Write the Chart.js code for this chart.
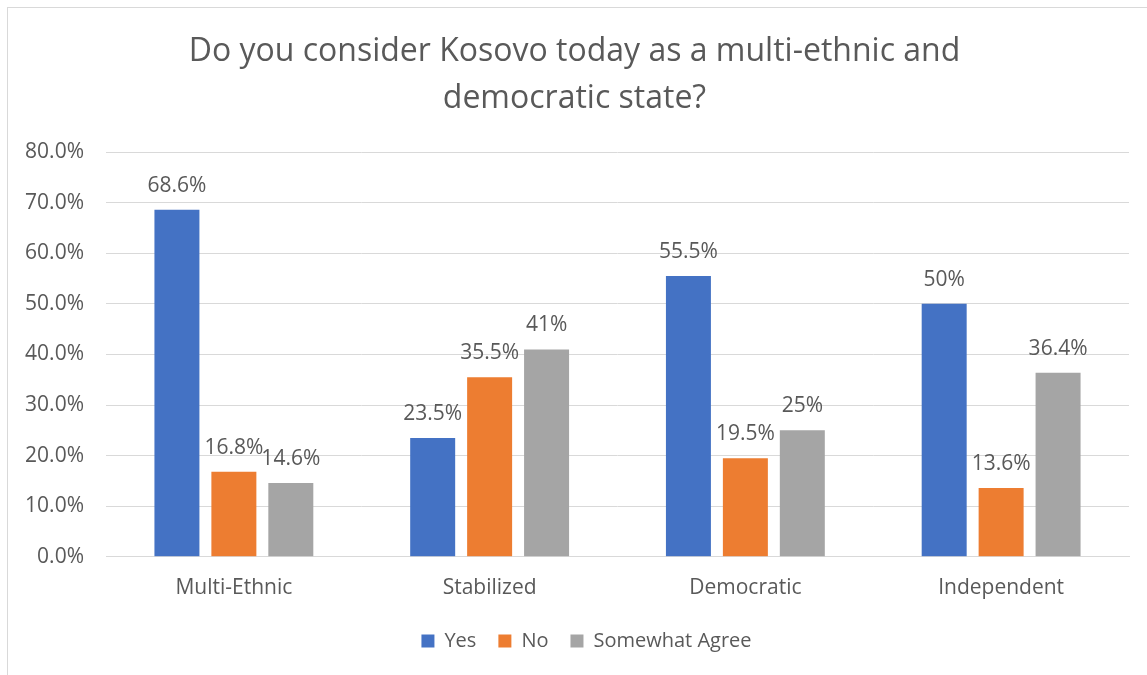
<!DOCTYPE html>
<html>
<head>
<meta charset="utf-8">
<script src="https://cdn.jsdelivr.net/npm/chart.js@4.4.1/dist/chart.umd.min.js"></script>
<style>
  html, body { margin: 0; padding: 0; background: #fff; }
  #wrap { position: relative; width: 1147px; height: 675px; overflow: hidden; }
  #frame { position: absolute; left: 7px; top: 7px; width: 1200px; height: 700px;
           border-left: 1px solid #d9d9d9; border-top: 1px solid #d9d9d9; }
  canvas { position: absolute; left: 0; top: 0; }
</style>
</head>
<body>
<div id="wrap">
  <div id="frame"></div>
  <canvas id="chart" width="1147" height="675"></canvas>
</div>
<script>
const categories = ['Multi-Ethnic', 'Stabilized', 'Democratic', 'Independent'];
const yesValues = [68.6, 23.5, 55.5, 50];
const noValues = [16.8, 35.5, 19.5, 13.6];
const somewhatValues = [14.6, 41, 25, 36.4];
const yTicks = [0, 10, 20, 30, 40, 50, 60, 70, 80];

const textColor = '#595959';
const fontFamily = '"Open Sans", "Liberation Sans", sans-serif';

// value labels above each bar
const barLabels = {
  id: 'barLabels',
  afterDatasetsDraw(chart) {
    const ctx = chart.ctx;
    ctx.save();
    ctx.fillStyle = textColor;
    ctx.font = '21px ' + fontFamily;
    ctx.textAlign = 'center';
    ctx.textBaseline = 'alphabetic';
    chart.data.datasets.forEach((ds, i) => {
      chart.getDatasetMeta(i).data.forEach((bar, j) => {
        ctx.fillText(ds.data[j] + '%', bar.x, bar.y - 18);
      });
    });
    ctx.restore();
  }
};

// nudge the legend a little up and right after layout
const legendShift = {
  id: 'legendShift',
  afterLayout(chart) {
    const lg = chart.legend;
    if (!lg) return;
    lg.top -= 11; lg.bottom -= 11;
    lg.left += 12; lg.right += 12;
  }
};

new Chart(document.getElementById('chart'), {
  type: 'bar',
  data: {
    labels: categories,
    datasets: [
      { label: 'Yes', data: yesValues, backgroundColor: '#4472c4' },
      { label: 'No', data: noValues, backgroundColor: '#ed7d31' },
      { label: 'Somewhat Agree', data: somewhatValues, backgroundColor: '#a5a5a5' }
    ]
  },
  options: {
    responsive: false,
    animation: false,
    categoryPercentage: 0.668,
    barPercentage: 0.79,
    layout: { padding: { left: 20, right: 18, top: 28, bottom: 3 } },
    plugins: {
      title: {
        display: true,
        text: ['Do you consider Kosovo today as a multi-ethnic and', 'democratic state?'],
        color: textColor,
        font: { family: fontFamily, size: 32, weight: 'normal', lineHeight: 1.47 },
        padding: { top: 0, bottom: 30 }
      },
      legend: {
        position: 'bottom',
        labels: {
          color: textColor,
          font: { family: fontFamily, size: 20 },
          boxWidth: 13,
          boxHeight: 13,
          padding: 22
        }
      },
      tooltip: { enabled: false }
    },
    scales: {
      x: {
        grid: { display: false, drawTicks: false },
        border: { color: '#d9d9d9' },
        ticks: { color: textColor, font: { family: fontFamily, size: 21 }, padding: 19 }
      },
      y: {
        min: 0,
        max: 80,
        afterFit(scale) { scale.width = 86; },
        afterBuildTicks(scale) { scale.ticks = yTicks.map(v => ({ value: v })); },
        grid: { color: '#d9d9d9', drawTicks: false },
        border: { display: false },
        ticks: {
          color: textColor,
          font: { family: fontFamily, size: 21 },
          padding: 22,
          callback: v => v.toFixed(1) + '%'
        }
      }
    }
  },
  plugins: [barLabels, legendShift]
});
</script>
</body>
</html>
